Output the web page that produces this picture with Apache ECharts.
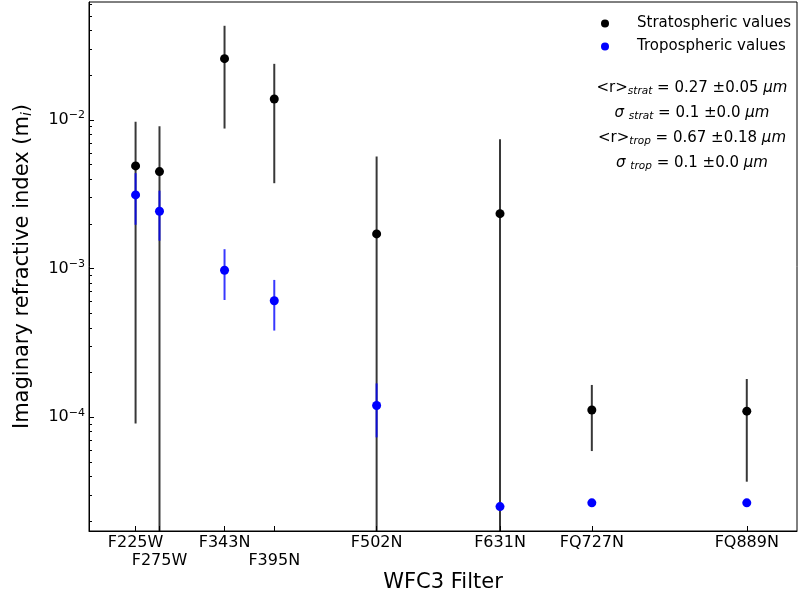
<!DOCTYPE html>
<html><head><meta charset="utf-8">
<script src="https://cdn.jsdelivr.net/npm/echarts@6/dist/echarts.min.js"></script>
<style>html,body{margin:0;padding:0;background:#fff}#c{width:798px;height:598px}</style>
</head><body><div id="c"></div>
<script>
// ---- data ----
const filters = ['F225W','F275W','F343N','F395N','F502N','F631N','FQ727N','FQ889N'];
const wavelengths = [250, 275, 343, 395, 502, 631, 727, 889];
const stratValues = [4.9e-3, 4.49e-3, 2.58e-2, 1.38e-2, 1.71e-3, 2.34e-3, 1.12e-4, 1.10e-4];
const stratLow    = [9.1e-5, 1e-6,    8.74e-3, 3.75e-3, 1e-6,    1e-6,    5.93e-5, 3.69e-5];
const stratHigh   = [9.7e-3, 9.07e-3, 4.29e-2, 2.38e-2, 5.66e-3, 7.41e-3, 1.65e-4, 1.81e-4];
const tropValues  = [3.13e-3, 2.43e-3, 9.75e-4, 6.08e-4, 1.20e-4, 2.51e-5, 2.66e-5, 2.66e-5];
const tropLow     = [1.97e-3, 1.54e-3, 6.15e-4, 3.83e-4, 7.33e-5, 2.51e-5, 2.66e-5, 2.66e-5];
const tropHigh    = [4.38e-3, 3.34e-3, 1.35e-3, 8.39e-4, 1.69e-4, 2.51e-5, 2.66e-5, 2.66e-5];
const yMajorTicks = [1e-4, 1e-3, 1e-2];
const lowerRowFilters = ['F275W', 'F395N'];
const seriesNames = ['Stratospheric values', 'Tropospheric values'];
const annotations = [
  '<r>{s|strat} = 0.27 ±0.05 {i|μm}',
  '{i|σ} {s|strat} = 0.1 ±0.0 {i|μm}',
  '<r>{s|trop} = 0.67 ±0.18 {i|μm}',
  '{i|σ} {s|trop} = 0.1 ±0.0 {i|μm}'
];

const xMin = 201.3, xMax = 941.5, yMin = 1.72e-5, yMax = 6.2e-2;
const minorTicks = [];
for (let n = -5; n <= -2; n++) for (let k = 2; k <= 9; k++) {
  const v = k * Math.pow(10, n);
  if (v > yMin && v < yMax) minorTicks.push(v);
}
const upperRowValues = wavelengths.filter((w, i) => lowerRowFilters.indexOf(filters[i]) < 0);
const lowerRowValues = wavelengths.filter((w, i) => lowerRowFilters.indexOf(filters[i]) >= 0);
function filterName(v) { const i = wavelengths.indexOf(v); return i >= 0 ? filters[i] : ''; }

const FONT = 'DejaVu Sans';
const chart = echarts.init(document.getElementById('c'));

function errRender(color) {
  return function (params, api) {
    const x = api.value(0), lo = api.value(1), hi = api.value(2);
    if (!(hi > lo)) return;
    const p1 = api.coord([x, hi]);
    const p2 = api.coord([x, lo]);
    const cs = params.coordSys;
    const top = Math.max(p1[1], cs.y);
    const bot = Math.min(p2[1], cs.y + cs.height);
    if (bot <= top) return;
    return { type: 'line', shape: { x1: p1[0], y1: top, x2: p1[0], y2: bot },
             style: { stroke: color, lineWidth: 2 } };
  };
}

const subStyle = { fontSize: 10.5, fontStyle: 'italic', fontFamily: FONT, color: '#000', padding: [7, 0, 0, 0] };
const itStyle = { fontSize: 15, fontStyle: 'italic', fontFamily: FONT, color: '#000' };
const xLabelBase = { fontSize: 16, color: '#000', fontFamily: FONT, formatter: filterName, hideOverlap: false,
                     showMinLabel: true, showMaxLabel: true };

const option = {
  animation: false,
  backgroundColor: '#fff',
  textStyle: { fontFamily: FONT },
  grid: { left: 89, right: 1, top: 2, bottom: 67, show: true, borderColor: '#000', borderWidth: 1,
          containLabel: false, outerBoundsMode: 'none' },
  legend: {
    data: seriesNames, orient: 'vertical', left: 596, top: 11,
    itemWidth: 54, itemHeight: 8, itemGap: 8, icon: 'circle',
    textStyle: { fontSize: 15, color: '#000', fontFamily: FONT },
    selectedMode: false
  },
  xAxis: [{
    type: 'value', min: xMin, max: xMax, position: 'bottom',
    axisLine: { show: true, lineStyle: { color: '#000', width: 1 } },
    axisTick: { show: true, inside: true, length: 5, customValues: wavelengths, lineStyle: { color: '#000' } },
    axisLabel: Object.assign({ customValues: upperRowValues, margin: 4 }, xLabelBase),
    splitLine: { show: false },
    name: 'WFC3 Filter', nameLocation: 'middle', nameGap: 41,
    nameTextStyle: { fontSize: 21, color: '#000', fontFamily: FONT }
  }, {
    type: 'value', min: xMin, max: xMax, position: 'bottom', offset: 0,
    axisLine: { show: false }, axisTick: { show: false },
    axisLabel: Object.assign({ customValues: lowerRowValues, margin: 22 }, xLabelBase),
    splitLine: { show: false }
  }],
  yAxis: [{
    type: 'log', logBase: 10, min: yMin, max: yMax,
    axisLine: { show: true, lineStyle: { color: '#000', width: 1 } },
    axisTick: { show: true, inside: true, length: 5, customValues: yMajorTicks, lineStyle: { color: '#000' } },
    axisLabel: {
      customValues: yMajorTicks, fontSize: 16, color: '#000', fontFamily: FONT, margin: 4,
      formatter: function (v) { return '10{sup|−' + Math.round(-Math.log10(v)) + '}'; },
      rich: { sup: { fontSize: 11, fontFamily: FONT, color: '#000', padding: [0, 0, 9, 0] } }
    },
    splitLine: { show: false },
    name: 'Imaginary refractive index (m{sub|i})', nameLocation: 'middle', nameGap: 55,
    nameTextStyle: { fontSize: 21, color: '#000', fontFamily: FONT,
      rich: { sub: { fontSize: 14, fontStyle: 'italic', fontFamily: FONT, color: '#000', padding: [8, 0, 0, 0] } } }
  }, {
    type: 'log', logBase: 10, min: yMin, max: yMax, position: 'left', offset: 0,
    axisLine: { show: false },
    axisTick: { show: true, inside: true, length: 3, customValues: minorTicks, lineStyle: { color: '#000' } },
    axisLabel: { show: false },
    splitLine: { show: false }
  }],
  series: [
    { type: 'custom', name: 'strat-err', z: 1, renderItem: errRender('rgba(0,0,0,0.78)'),
      data: wavelengths.map((w, i) => [w, stratLow[i], stratHigh[i]]), silent: true },
    { type: 'scatter', name: seriesNames[0], z: 2, symbol: 'circle', symbolSize: 9,
      itemStyle: { color: '#000', opacity: 1 },
      data: wavelengths.map((w, i) => [w, stratValues[i]]) },
    { type: 'custom', name: 'trop-err', z: 3, renderItem: errRender('rgba(0,0,255,0.78)'),
      data: wavelengths.map((w, i) => [w, tropLow[i], tropHigh[i]]), silent: true },
    { type: 'scatter', name: seriesNames[1], z: 4, symbol: 'circle', symbolSize: 9,
      itemStyle: { color: '#0000ff', opacity: 1 },
      data: wavelengths.map((w, i) => [w, tropValues[i]]) }
  ],
  graphic: annotations.map((t, i) => ({
    type: 'text', x: 692, y: 88 + i * 25, z: 10,
    style: { text: t, align: 'center', verticalAlign: 'middle', fontSize: 15, fontFamily: FONT, fill: '#000',
      rich: { s: subStyle, i: itStyle } }
  }))
};
chart.setOption(option);
</script></body></html>
